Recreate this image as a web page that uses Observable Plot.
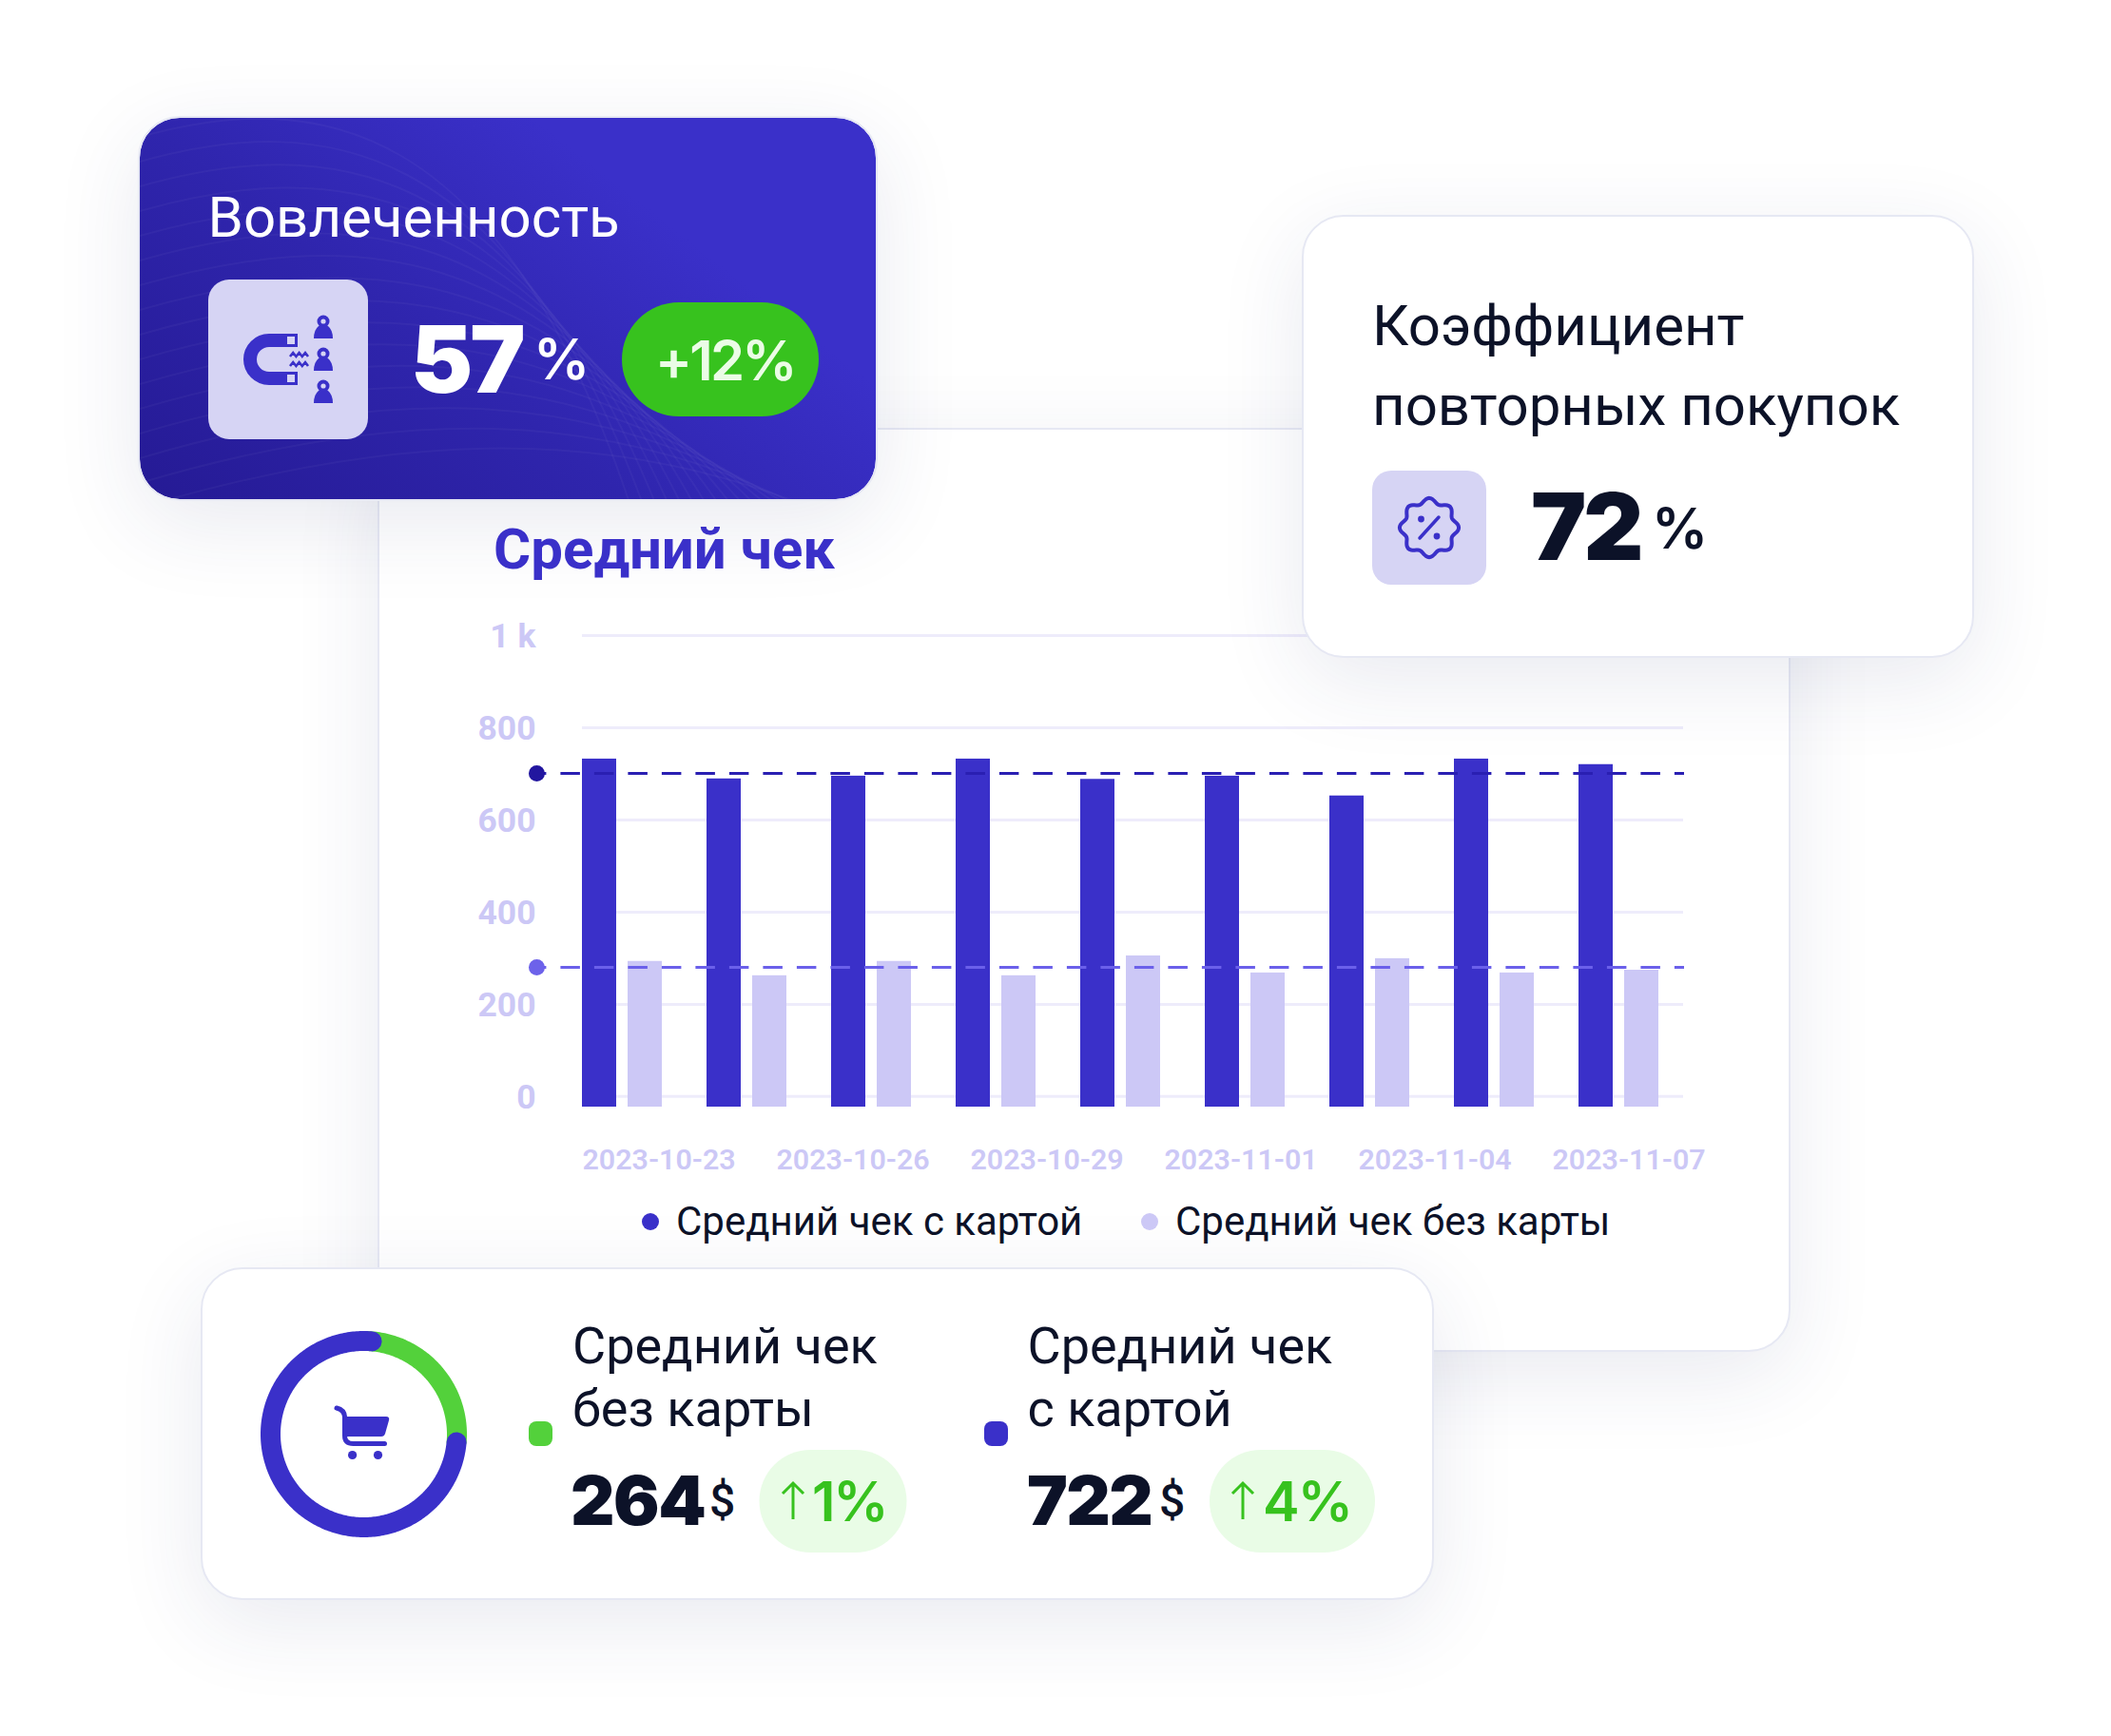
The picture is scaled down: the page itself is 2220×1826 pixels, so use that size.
<!DOCTYPE html>
<html lang="ru">
<head>
<meta charset="utf-8">
<script src="https://cdn.jsdelivr.net/npm/d3@7"></script>
<script src="https://cdn.jsdelivr.net/npm/@observablehq/plot@0.6"></script>
<style>
html,body{margin:0;padding:0;background:#fff;}
#page{position:relative;width:2220px;height:1826px;overflow:hidden;background:#fff;font-family:Roboto,sans-serif;}
.card{position:absolute;box-sizing:border-box;border-radius:44px;background:#fff;border:2.5px solid #e6e8f3;box-shadow:0 24px 90px rgba(40,50,110,.10);}
.abs{position:absolute;display:block;}
</style>
</head>
<body>
<div id="page"></div>
<script>
// ---- data ----
const barDays = ["2023-10-23","2023-10-25","2023-10-27","2023-10-29","2023-10-31","2023-11-02","2023-11-04","2023-11-06","2023-11-08"];
const withCard = [732, 689, 695, 732, 688, 695, 652, 732, 720];
const withoutCard = [293, 262, 293, 262, 305, 268, 299, 268, 274];
const dateLabels = ["2023-10-23","2023-10-26","2023-10-29","2023-11-01","2023-11-04","2023-11-07"];
const yTicks = [0, 200, 400, 600, 800, 1000];
const barFloor = -23;
const avgWithCard = 701;
const avgWithoutCard = 280;
const donutShares = [25, 75];
const donutStartDeg = 5;

const BLUE = "#3a30c9", PALE = "#ccc8f6", GRID = "#eeecfb", INK = "#0c1228", GREEN = "#37c21e";
const page = document.getElementById("page");

function card(x0, y0, x1, y1, extra) {
  const d = document.createElement("div");
  d.className = "card";
  d.style.cssText = `left:${x0}px;top:${y0}px;width:${x1 - x0}px;height:${y1 - y0}px;${extra || ""}`;
  page.appendChild(d);
  return d;
}
function place(node, x, y) {
  node.classList.add("abs");
  node.style.left = x + "px";
  node.style.top = y + "px";
  page.appendChild(node);
}

// ---- chart card ----
card(397, 450, 1883, 1421.5);

const rows1 = barDays.map((day, i) => ({day, value: withCard[i]}));
const rows2 = barDays.map((day, i) => ({day, value: withoutCard[i]}));
const dash = {strokeDasharray: "20.5 15", strokeDashoffset: 10.1, strokeWidth: 3};

const chart = Plot.plot({
  width: 1470, height: 560,
  marginLeft: 164, marginRight: 99, marginTop: 28, marginBottom: 36,
  style: {background: "transparent", fontFamily: "Roboto", overflow: "visible"},
  x: {type: "band", domain: barDays, range: [212, 1298], paddingInner: 0.7266, paddingOuter: 0, align: 0, axis: null},
  y: {domain: [barFloor, 1000], label: null, axis: null},
  marks: [
    Plot.ruleY(yTicks, {stroke: GRID, strokeWidth: 3, insetLeft: 48, insetRight: 1}),
    Plot.barY(rows1, {x: "day", y1: barFloor, y2: "value", fill: BLUE}),
    Plot.barY(rows2, {x: "day", y1: barFloor, y2: "value", fill: PALE, dx: 48}),
    Plot.ruleY([avgWithCard], {stroke: "#2a1fb2", ...dash}),
    Plot.ruleY([avgWithoutCard], {stroke: "#6b60ea", ...dash}),
    Plot.dot([avgWithCard], {y: d => d, frameAnchor: "left", r: 8.5, fill: "#22169f", stroke: "none"}),
    Plot.dot([avgWithoutCard], {y: d => d, frameAnchor: "left", r: 8.5, fill: "#6d62ea", stroke: "none"}),
    Plot.axisY({anchor: "left", ticks: yTicks, tickSize: 0, tickPadding: 1, label: null, dy: 1,
      tickFormat: d => d === 1000 ? "1 k" : String(d),
      fontSize: 35.5, fontWeight: 700, fill: PALE})
  ]
});
place(chart, 400, 640);

const dateAxis = Plot.plot({
  width: 1470, height: 60,
  marginLeft: 0, marginRight: 0, marginTop: 44, marginBottom: 0,
  style: {background: "transparent", fontFamily: "Roboto", overflow: "visible"},
  x: {type: "point", domain: dateLabels, range: [212, 1232], padding: 0, axis: null},
  y: {axis: null},
  marks: [
    Plot.axisX({anchor: "top", tickSize: 0, tickPadding: 0, textAnchor: "start", label: null, dy: -4.5,
      fontSize: 30.4, fontWeight: 600, fill: PALE})
  ]
});
place(dateAxis, 400, 1190);

// ---- overlay cards ----
const c1 = card(144.5, 121.5, 923, 526.5, "background:linear-gradient(38deg,#251a94 0%,#2f25ad 40%,#3a30c9 72%);background-clip:padding-box;overflow:hidden;");
let pat = "";
for (let i = 0; i < 16; i++) {
  pat += `<path d="M0 ${20 + i * 26} C ${180 + i * 6} ${-30 + i * 24}, ${380 + i * 8} ${-10 + i * 22}, ${520 + i * 14} ${420}" />`;
}
c1.innerHTML = `<svg width="776" height="404" style="position:absolute;left:0;top:0" fill="none" stroke="#fff" stroke-opacity=".035" stroke-width="2">${pat}</svg>`;
card(1369, 225.5, 2076, 692);
card(211, 1333, 1508, 1683);

// ---- donut ----
function arc(a0, a1) {
  const pts = [];
  for (let a = a0; a <= a1; a += 1) {
    const t = a * Math.PI / 180;
    pts.push({x: 98 * Math.sin(t), y: 98 * Math.cos(t)});
  }
  return pts;
}
const split = donutStartDeg + 360 * donutShares[0] / 100;
const donut = Plot.plot({
  width: 240, height: 240, margin: 0,
  style: {background: "transparent"},
  x: {domain: [-120, 120], axis: null},
  y: {domain: [-120, 120], axis: null},
  marks: [
    Plot.line(arc(0, split), {x: "x", y: "y", stroke: "#53d13b", strokeWidth: 21}),
    Plot.line(arc(split, 360 + donutStartDeg), {x: "x", y: "y", stroke: BLUE, strokeWidth: 21, strokeLinecap: "round"})
  ]
});
place(donut, 262, 1387.5);

// ---- texts and icons over everything ----
const T = (s, x, y, size, weight, fill, font = "Roboto", extra = "") =>
  `<text x="${x}" y="${y}" font-family="${font}" font-size="${size}" font-weight="${weight}" fill="${fill}" ${extra}>${s}</text>`;

const person = (cx, top) => `
  <circle cx="${cx}" cy="${top + 7}" r="6.5" fill="${BLUE}"/><circle cx="${cx}" cy="${top + 7}" r="2.6" fill="#d6d4f4"/>
  <path d="M${cx - 5} ${top + 12} h10 q5 4 5 13 h-20 q0 -9 5 -13z" fill="${BLUE}"/>`;
const zig = (x, y) => `<path d="M${x} ${y + 3} l3.2 -4 l3.2 4 l3.2 -4 l3.2 4 l3.2 -4 l3 4" fill="none" stroke="${BLUE}" stroke-width="2.6"/>`;

let scallop = "";
for (let a = 0; a <= 360; a += 3) {
  const t = a * Math.PI / 180, r = 28.5 + 2.6 * Math.cos(8 * t);
  scallop += (a ? "L" : "M") + (1503 + r * Math.sin(t)).toFixed(1) + " " + (555 - r * Math.cos(t)).toFixed(1);
}
const upArrow = (x, y0, y1) => `<path d="M${x} ${y1} V${y0} M${x - 11} ${y0 + 11} L${x} ${y0} L${x + 11} ${y0 + 11}" fill="none" stroke="${GREEN}" stroke-width="3"/>`;

const overlay = document.createElementNS("http://www.w3.org/2000/svg", "svg");
overlay.setAttribute("width", 2220);
overlay.setAttribute("height", 1826);
overlay.innerHTML = `
  ${T("Средний чек", 519, 598, 60, 700, BLUE)}
  <circle cx="684" cy="1285" r="9" fill="${BLUE}"/>
  ${T("Средний чек с картой", 711, 1299, 42, 400, INK)}
  <circle cx="1209" cy="1285" r="9" fill="${PALE}"/>
  ${T("Средний чек без карты", 1236, 1299, 42, 400, INK)}

  ${T("Вовлеченность", 218.5, 249, 60, 400, "#fff")}
  <rect x="219" y="294" width="168" height="168" rx="22" fill="#d6d4f4"/>
  <path d="M313 358 H283 A20 20 0 0 0 283 398 H313" fill="none" stroke="${BLUE}" stroke-width="14"/>
  <rect x="302" y="354" width="8" height="8" fill="#d6d4f4"/><rect x="302" y="394" width="8" height="8" fill="#d6d4f4"/>
  ${zig(305, 372)}${zig(305, 382)}
  ${person(340, 331)}${person(340, 365)}${person(340, 399)}
  ${T("57", 432, 413, 98, 900, "#fff", "Inter", 'letter-spacing="-3"')}
  ${T("%", 561, 399, 59, 600, "#fff", "Inter", 'letter-spacing="-2"')}
  <rect x="654" y="318" width="207" height="120" rx="60" fill="${GREEN}"/>
  ${T("+12%", 689, 399.5, 58, 600, "#ebfce6", "Inter", 'letter-spacing="-2.8"')}

  ${T("Коэффициент", 1443, 363, 60, 400, INK)}
  ${T("повторных покупок", 1443, 447, 60, 400, INK)}
  <rect x="1443" y="495" width="120" height="120" rx="20" fill="#d6d4f4"/>
  <path d="${scallop}z" fill="none" stroke="${BLUE}" stroke-width="4"/>
  <path d="M1493 566 L1513 544" stroke="${BLUE}" stroke-width="3.5" stroke-linecap="round"/>
  <circle cx="1494.5" cy="546" r="3.4" fill="${BLUE}"/><circle cx="1511" cy="564" r="3.4" fill="${BLUE}"/>
  ${T("72", 1610, 589, 98, 900, INK, "Inter", 'letter-spacing="-3"')}
  ${T("%", 1737, 577, 59, 600, INK, "Inter", 'letter-spacing="-2"')}

  <path d="M354 1481 q8 2 8.5 9 v20 q0 8.5 9 8.5 h33" fill="none" stroke="${BLUE}" stroke-width="5" stroke-linecap="round"/>
  <path d="M364 1490 h42 q4 0 3 4 l-4 14 q-1 3 -4 3 h-37 z" fill="${BLUE}"/>
  <circle cx="370.6" cy="1530.5" r="4.6" fill="${BLUE}"/><circle cx="397.5" cy="1530.5" r="4.6" fill="${BLUE}"/>

  <rect x="556" y="1495" width="25" height="26" rx="8" fill="#53d13b"/>
  ${T("Средний чек", 602, 1434, 54, 400, INK)}
  ${T("без карты", 602, 1500, 54, 400, INK)}
  ${T("264", 600, 1604, 72, 900, INK, "Inter", 'letter-spacing="-1.5"')}
  ${T("$", 746, 1595, 48, 500, INK, "Roboto")}
  <rect x="798.5" y="1525" width="155" height="108" rx="54" fill="#e9fce6"/>
  ${upArrow(834, 1560, 1598)}
  ${T("1%", 854, 1600, 58, 600, GREEN, "Inter", 'letter-spacing="-2.4"')}

  <rect x="1035" y="1495" width="25" height="26" rx="8" fill="${BLUE}"/>
  ${T("Средний чек", 1080.5, 1434, 54, 400, INK)}
  ${T("с картой", 1080.5, 1500, 54, 400, INK)}
  ${T("722", 1080, 1604, 72, 900, INK, "Inter", 'letter-spacing="-1.5"')}
  ${T("$", 1219, 1595, 48, 500, INK, "Roboto")}
  <rect x="1272" y="1525" width="174" height="108" rx="54" fill="#e9fce6"/>
  ${upArrow(1307, 1560, 1598)}
  ${T("4%", 1328, 1600, 58, 600, GREEN, "Inter", 'letter-spacing="-2"')}
`;
overlay.style.cssText = "position:absolute;left:0;top:0;";
page.appendChild(overlay);
</script>
</body>
</html>
